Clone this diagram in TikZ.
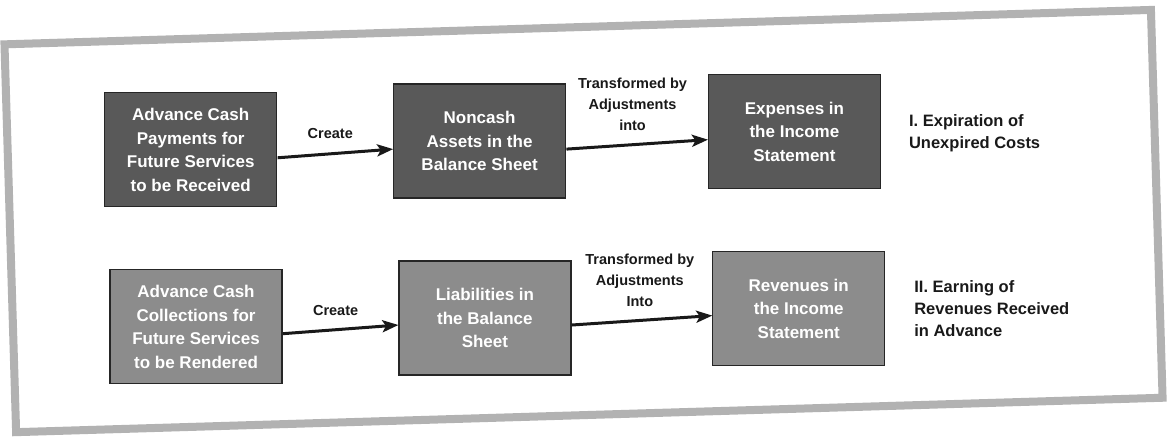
\documentclass[tikz,border=0pt]{standalone}
\usepackage{fontspec}
\setmainfont{Liberation Sans}
\usetikzlibrary{arrows.meta}
\begin{document}
\begin{tikzpicture}[x=1pt,y=-1pt,
  box/.style={draw=black!85, line width=1.3pt, minimum width=172pt, minimum height=114pt,
    inner sep=0pt, align=center, text=white, font=\bfseries\fontsize{17}{23.5}\selectfont},
  darkbox/.style={box, fill=black!65},
  lightbox/.style={box, fill=black!45},
  link/.style={line width=3pt, draw=black!90, -{Stealth[length=16pt,width=12pt,inset=3.5pt]}},
  linklabel/.style={align=center, font=\bfseries\fontsize{14.5}{21}\selectfont, text=black!90},
  sidelabel/.style={align=left, anchor=west, font=\bfseries\fontsize{16.5}{22}\selectfont, text=black!90},
  frame/.style={draw=black!30, line width=8pt}]
\useasboundingbox (0,0) rectangle (1170,441);
\begin{scope}[rotate around={1.72:(585,220)}]
  % outer frame
  \draw[frame] (10,27) rectangle (1157,415);

  % row I: costs paid in advance
  \node[darkbox] (adv1) at (193,138) {Advance Cash\\Payments for\\Future Services\\to be Received};
  \node[darkbox] (asset) at (482,138) {Noncash\\Assets in the\\Balance Sheet};
  \node[darkbox] (expense) at (797,138) {Expenses in\\the Income\\Statement};

  % row II: revenues collected in advance
  \node[lightbox] (adv2) at (193,315) {Advance Cash\\Collections for\\Future Services\\to be Rendered};
  \node[lightbox] (liab) at (482,315) {Liabilities in\\the Balance\\Sheet};
  \node[lightbox] (revenue) at (796,315) {Revenues in\\the Income\\Statement};

  % connectors
  \draw[link] ([yshift=-8pt]adv1.east) -- ([yshift=-8pt]asset.west);
  \draw[link] ([yshift=-8pt]asset.east) -- ([yshift=-8pt]expense.west);
  \draw[link] ([yshift=-7pt]adv2.east) -- ([yshift=-7pt]liab.west);
  \draw[link] ([yshift=-7pt]liab.east) -- ([yshift=-7pt]revenue.west);

  % connector labels
  \node[linklabel] (create1) at (333,126) {Create};
  \node[linklabel] (trans1) at (636,105.5) {Transformed by\\Adjustments\\into};
  \node[linklabel] (create2) at (333,302.5) {Create};
  \node[linklabel] (trans2) at (638,281.5) {Transformed by\\Adjustments\\Into};

  % row captions
  \node[sidelabel] (kind1) at (908,143) {I. Expiration of\\Unexpired Costs};
  \node[sidelabel] (kind2) at (908,318) {II. Earning of\\Revenues Received\\in Advance};
\end{scope}
\end{tikzpicture}
\end{document}
